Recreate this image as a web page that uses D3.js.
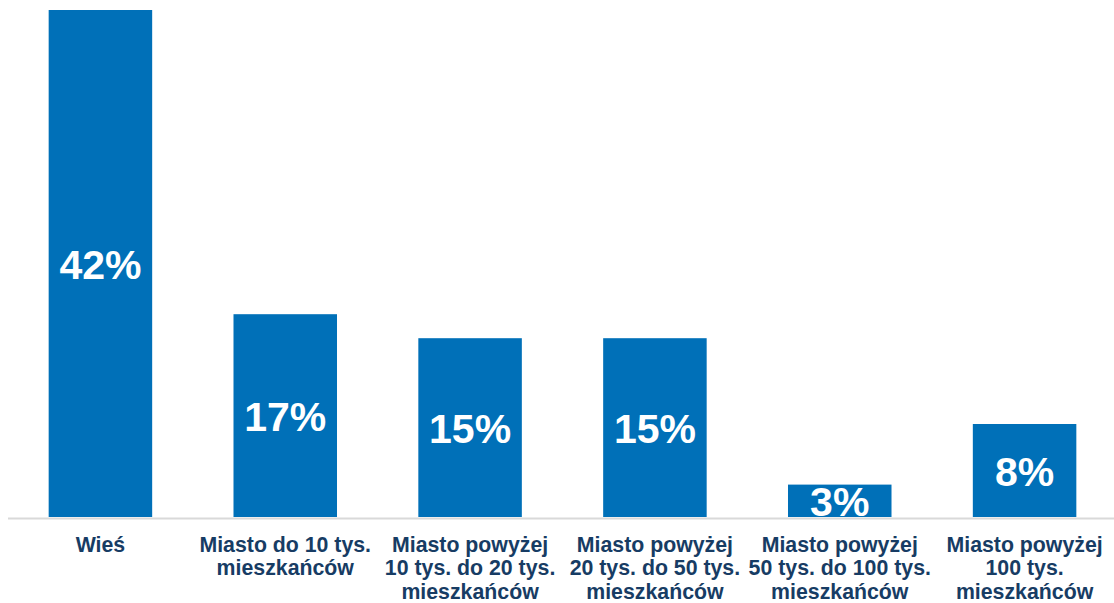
<!DOCTYPE html>
<html>
<head>
<meta charset="utf-8">
<script src="https://cdn.jsdelivr.net/npm/d3@7"></script>
<style>
  body { margin: 0; background: #fff; }
  svg { display: block; }
</style>
</head>
<body>
<div id="chart"></div>
<script>
// Category labels (one entry per line of the wrapped label)
const categories = [
  ["Wieś"],
  ["Miasto do 10 tys.", "mieszkańców"],
  ["Miasto powyżej", "10 tys. do 20 tys.", "mieszkańców"],
  ["Miasto powyżej", "20 tys. do 50 tys.", "mieszkańców"],
  ["Miasto powyżej", "50 tys. do 100 tys.", "mieszkańców"],
  ["Miasto powyżej", "100 tys.", "mieszkańców"]
];
// Shares in % (labels show them rounded)
const shares = [42.25, 16.9, 14.9, 14.9, 2.7, 7.75];

const width = 1114;
const height = 603;
const baseY = 517;

const svg = d3.select("#chart")
  .append("svg")
  .attr("width", width)
  .attr("height", height);

const x = d3.scaleBand()
  .domain(d3.range(categories.length))
  .range([8, 1117])
  .paddingInner(0.44)
  .paddingOuter(0.22);

const y = d3.scaleLinear()
  .domain([0, 42.25])
  .range([baseY, 10]);

const data = categories.map(function(c, i) {
  return { i: i, lines: c, value: shares[i] };
});

// Bars
svg.selectAll("rect.bar")
  .data(data)
  .enter()
  .append("rect")
  .attr("class", "bar")
  .attr("x", function(d) { return x(d.i); })
  .attr("y", function(d) { return y(d.value); })
  .attr("width", x.bandwidth())
  .attr("height", function(d) { return baseY - y(d.value); })
  .attr("fill", "#0070B8");

// Value labels, centred in each bar
svg.selectAll("text.val")
  .data(data)
  .enter()
  .append("text")
  .attr("class", "val")
  .attr("x", function(d) { return x(d.i) + x.bandwidth() / 2; })
  .attr("y", function(d) { return (y(d.value) + baseY) / 2 + 15; })
  .attr("text-anchor", "middle")
  .attr("font-family", "Liberation Sans, Arial, sans-serif")
  .attr("font-weight", "bold")
  .attr("font-size", "41px")
  .attr("fill", "#ffffff")
  .text(function(d) { return Math.round(d.value) + "%"; });

// Baseline
svg.append("line")
  .attr("x1", 8)
  .attr("x2", width)
  .attr("y1", baseY + 1.5)
  .attr("y2", baseY + 1.5)
  .attr("stroke", "#D9D9D9")
  .attr("stroke-width", 2);

// Category labels
const cat = svg.selectAll("text.cat")
  .data(data)
  .enter()
  .append("text")
  .attr("class", "cat")
  .attr("text-anchor", "middle")
  .attr("font-family", "Liberation Sans, Arial, sans-serif")
  .attr("font-weight", "bold")
  .attr("font-size", "21.3px")
  .attr("fill", "#173C64");

cat.selectAll("tspan")
  .data(function(d) {
    return d.lines.map(function(l) { return { text: l, cx: x(d.i) + x.bandwidth() / 2 }; });
  })
  .enter()
  .append("tspan")
  .attr("x", function(d) { return d.cx; })
  .attr("y", function(d, j) { return 551.5 + j * 23.8; })
  .text(function(d) { return d.text; });
</script>
</body>
</html>
